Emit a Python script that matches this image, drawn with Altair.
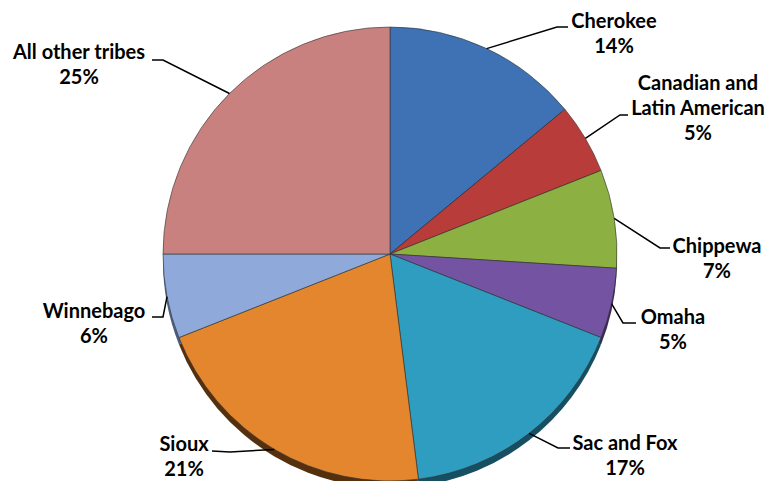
import altair as alt
import pandas as pd
import numpy as np

# ---- data ----
tribes = ["Cherokee", "Canadian and Latin American", "Chippewa", "Omaha",
          "Sac and Fox", "Sioux", "Winnebago", "All other tribes"]
shares = [14, 5, 7, 5, 17, 21, 6, 25]
label_lines = ["Cherokee", "Canadian and\nLatin American", "Chippewa", "Omaha",
               "Sac and Fox", "Sioux", "Winnebago", "All other tribes"]

# ---- style ----
colors = ["#3F71B5", "#B83C39", "#8DB043", "#7553A3",
          "#2F9DC0", "#E3862E", "#8FAADA", "#C98180"]
rim_colors = ["#1F3C63", "#5E1E1C", "#4A5E22", "#3B2A55",
              "#174F62", "#55300F", "#4A5E80", "#6E4343"]

OFF = 8
W, H = 775 - 2 * OFF, 489 - 2 * OFF
CX, CY, R = 390 - OFF, 254 - OFF, 227

# label layout (picture coordinates): elbow, line end, first text line centre
elbow = [(557, 27), (620, 115), (660, 248), (623, 323),
         (558, 448), (230, 452), (163, 317), (163, 60)]
lend = [(568, 27), (628, 115), (670, 248), (636, 323),
        (570, 448), (212, 451), (152, 317), (152, 60)]
text_pos = [(614, 22), (698, 84), (717, 247), (673, 318),
            (625, 444), (184, 445), (94, 312), (79, 53)]

df = pd.DataFrame({"tribe": tribes, "share": shares, "order": range(len(tribes))})

# leader lines starting from the pie edge at each slice's mid angle
sh = np.array(shares, dtype=float)
cum = np.cumsum(sh)
mid = (cum - sh / 2) / sh.sum() * 2 * np.pi
rows = []
for i, t in enumerate(tribes):
    sx = CX + R * np.sin(mid[i])
    sy = CY - R * np.cos(mid[i])
    pts = [(sx, sy), (elbow[i][0] - OFF, elbow[i][1] - OFF), (lend[i][0] - OFF, lend[i][1] - OFF)]
    for k, (px, py) in enumerate(pts):
        rows.append({"tribe": t, "k": k, "x": px, "y": py})
lines_df = pd.DataFrame(rows)

text_df = pd.DataFrame({
    "tribe": tribes,
    "label": [f"{l}\n{s}%" for l, s in zip(label_lines, shares)],
    "x": [p[0] - OFF for p in text_pos],
    "y": [p[1] - OFF for p in text_pos],
})

theta = alt.Theta("share:Q", stack=True)
order = alt.Order("order:Q")

rim = alt.Chart(df).mark_arc(outerRadius=R).encode(
    theta=theta, order=order,
    color=alt.Color("tribe:N", scale=alt.Scale(domain=tribes, range=rim_colors), legend=None),
    x=alt.value(CX), y=alt.value(CY + 7),
)

pie = alt.Chart(df).mark_arc(outerRadius=R, stroke="#333333", strokeWidth=0.6).encode(
    theta=theta, order=order,
    color=alt.Color("tribe:N", scale=alt.Scale(domain=tribes, range=colors), legend=None),
    x=alt.value(CX), y=alt.value(CY),
)

leaders = alt.Chart(lines_df).mark_line(color="black", strokeWidth=1.5).encode(
    x=alt.X("x:Q", scale=None, axis=None),
    y=alt.Y("y:Q", scale=None, axis=None),
    detail="tribe:N",
    order="k:Q",
)

labels = alt.Chart(text_df).mark_text(
    font="Lato", fontWeight="bold", fontSize=20, lineBreak="\n", lineHeight=25,
    align="center", baseline="middle", color="black",
).encode(
    x=alt.X("x:Q", scale=None, axis=None),
    y=alt.Y("y:Q", scale=None, axis=None),
    text="label:N",
)

chart = alt.layer(rim, pie, leaders, labels).resolve_scale(
    color="independent"
).properties(
    width=W, height=H, autosize="none", padding=0
).configure_view(stroke=None)

chart.save("out.html", embed_options={"renderer": "svg", "actions": False})
